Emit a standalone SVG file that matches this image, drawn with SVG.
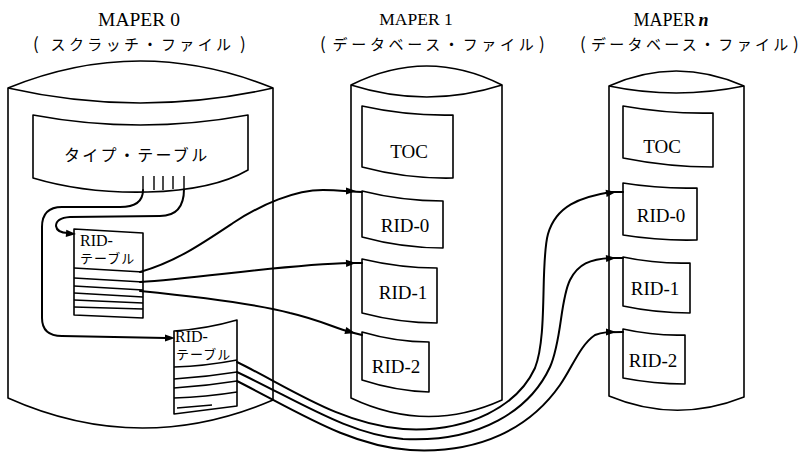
<svg xmlns="http://www.w3.org/2000/svg" xmlns:xlink="http://www.w3.org/1999/xlink" width="801" height="452" viewBox="0 0 801 452">
  <defs>
    <style>
      .o { fill: none; stroke: #000; stroke-width: 1.6; stroke-linejoin: round; }
      .r { fill: none; stroke: #000; stroke-width: 1.4; }
      .c { fill: none; stroke: #000; stroke-width: 2; stroke-linecap: round; }
      .ser { font-family: "Liberation Serif", "DejaVu Serif", serif; fill: #000; }
      .jp { font-family: "Noto Sans CJK JP", "Noto Sans CJK SC", sans-serif; fill: #000; }
      .lbl { font-size: 19px; text-anchor: middle; }
      .par { font-size: 17px; }
    </style>
    <!-- small filled arrowhead, tip at the origin, pointing right -->
    <path id="ah" d="M0,0 L-10,-3.6 L-10,3.6 Z" fill="#000"/>
  </defs>

  <rect width="801" height="452" fill="#fff"/>

  <!-- MAPER 0: scratch file -->
  <g id="maper0">
    <text class="ser" x="139" y="26" font-size="19.5" text-anchor="middle">MAPER 0</text>
    <text class="jp" y="50" font-size="15"><tspan class="par" x="33">(</tspan><tspan x="50.5" letter-spacing="3.4">スクラッチ・ファイル</tspan><tspan class="par" x="240">)</tspan></text>
    <path class="o" d="M8,88 Q140,34 273,88 L273,400 Q140,457 8,398 Z"/>
    <path class="o" d="M8,88 Q140,118 273,88"/>

    <g id="type-table">
      <path class="o" d="M33,115 Q140,135 248,115 L248,170 C200,198 100,198 33,178 Z"/>
      <text class="jp" x="64" y="161" font-size="16" letter-spacing="2.3">タイプ・テーブル</text>
      <path class="r" d="M143,176 V190 M154,176 V190 M163,176 V190 M173,176 V189 M184,176 V188"/>
    </g>

    <g id="rid-table-a">
      <path class="o" d="M74,229 L143,233 L143,318 L74,315 Z"/>
      <text class="ser" x="80" y="246" font-size="16">RID-</text>
      <text class="jp" x="80" y="263" font-size="13" letter-spacing="1">テーブル</text>
      <path class="r" d="M74,268 L143,272 M74,278 L143,282 M74,286 L143,290 M74,293 L143,297 M74,300 L143,303 M74,307 L143,309"/>
    </g>

    <g id="rid-table-b">
      <path class="o" d="M174,331 Q206,329 237,320 L237,406 Q206,410 174,414 Z"/>
      <text class="ser" x="175" y="342" font-size="16">RID-</text>
      <text class="jp" x="176" y="359" font-size="13" letter-spacing="1">テーブル</text>
      <path class="r" d="M174,367 Q206,366 237,360 M174,379 Q206,377 237,372 M174,388 Q206,386 237,381 M174,398 Q206,397 237,392 M177,408 L212,405"/>
    </g>
  </g>

  <!-- MAPER 1: database file -->
  <g id="maper1">
    <text class="ser" x="416" y="25" font-size="17.5" text-anchor="middle">MAPER 1</text>
    <text class="jp" y="50" font-size="15"><tspan class="par" x="320">(</tspan><tspan x="332.5" letter-spacing="3.7">データベース・ファイル</tspan><tspan class="par" x="539">)</tspan></text>
    <path class="o" d="M351,85 Q427,47 502,85 L502,400 Q427,434 351,398 Z"/>
    <path class="o" d="M351,85 Q427,109 502,85"/>

    <g id="maper1-toc">
      <path class="o" d="M362,106 Q407,116 453,115 L453,178 Q407,179 362,167 Z"/>
      <text class="ser lbl" x="409" y="158">TOC</text>
    </g>
    <g id="maper1-rid0">
      <path class="o" d="M362,191 Q402,201 443,201 L443,248 Q402,248 362,237 Z"/>
      <text class="ser lbl" x="405" y="232">RID-0</text>
    </g>
    <g id="maper1-rid1">
      <path class="o" d="M362,259 Q400,268 437,268 L437,323 Q400,323 362,313 Z"/>
      <text class="ser lbl" x="403" y="299">RID-1</text>
    </g>
    <g id="maper1-rid2">
      <path class="o" d="M362,332 Q396,342 429,342 L429,392 Q396,391 362,380 Z"/>
      <text class="ser lbl" x="396" y="373">RID-2</text>
    </g>
  </g>

  <!-- MAPER n: database file -->
  <g id="mapern">
    <text class="ser" x="671" y="26" font-size="18" text-anchor="middle">MAPER<tspan font-style="italic" font-weight="bold" dx="3">n</tspan></text>
    <text class="jp" y="50" font-size="15"><tspan class="par" x="580">(</tspan><tspan x="591" letter-spacing="3.3">データベース・ファイル</tspan><tspan class="par" x="793">)</tspan></text>
    <path class="o" d="M609,86 Q676,56 744,86 L744,397 Q676,424 609,396 Z"/>
    <path class="o" d="M609,86 Q676,100 744,86"/>

    <g id="mapern-toc">
      <path class="o" d="M623,106 Q668,114 713,113 L713,167 Q668,167 623,158 Z"/>
      <text class="ser lbl" x="662" y="153">TOC</text>
    </g>
    <g id="mapern-rid0">
      <path class="o" d="M623,183 Q660,189 697,188 L697,240 Q660,241 623,235 Z"/>
      <text class="ser lbl" x="661" y="222">RID-0</text>
    </g>
    <g id="mapern-rid1">
      <path class="o" d="M623,257 Q656,264 690,263 L690,313 Q656,313 623,306 Z"/>
      <text class="ser lbl" x="655" y="295">RID-1</text>
    </g>
    <g id="mapern-rid2">
      <path class="o" d="M623,329 Q654,336 685,335 L685,384 Q654,384 623,378 Z"/>
      <text class="ser lbl" x="653" y="367">RID-2</text>
    </g>
  </g>

  <!-- links between tables -->
  <g id="connectors">
    <!-- type table to the two RID tables -->
    <path class="c" d="M143,190 C143,201 136,207 120,207 L62,207 Q42,207 42,227 L42,318 Q42,336 62,336 L166,338"/>
    <path class="c" d="M184,189 C184,205 178,216 160,216 L70,217 Q56,218 56,226 Q57,233 68,233 L70,233"/>

    <!-- RID table A to MAPER 1 -->
    <path class="c" d="M140,272 C175,262 200,245 233,223 C262,204 295,190 323,190 C335,190 345,191 362,192"/>
    <path class="c" d="M140,282 C200,278 290,264 350,263 L362,263"/>
    <path class="c" d="M140,291 C200,297 260,305 290,313 C320,320 335,328 350,332 L362,335"/>

    <!-- RID table B to MAPER n -->
    <path class="c" d="M237,362 C290,388 340,424 403,429 C470,433 518,405 535,368 C548,335 540,262 548,234 C556,206 580,197 611,192 L623,192"/>
    <path class="c" d="M237,372 C300,402 350,435 403,439 C480,443 530,410 550,367 C562,340 560,300 570,280 C578,264 590,259 611,258 L623,258"/>
    <path class="c" d="M237,381 C300,413 350,446 410,450 C480,454 530,428 560,385 C572,368 580,345 595,335 C602,332 608,332 623,332"/>

    <!-- arrowheads -->
    <use xlink:href="#ah" transform="translate(76,234) rotate(4)"/>
    <use xlink:href="#ah" transform="translate(175,338)"/>
    <use xlink:href="#ah" transform="translate(356,191)"/>
    <use xlink:href="#ah" transform="translate(356,263) rotate(-2)"/>
    <use xlink:href="#ah" transform="translate(355,333) rotate(15)"/>
    <use xlink:href="#ah" transform="translate(616,192) rotate(-8)"/>
    <use xlink:href="#ah" transform="translate(616,258) rotate(-3)"/>
    <use xlink:href="#ah" transform="translate(616,332)"/>
  </g>
</svg>
